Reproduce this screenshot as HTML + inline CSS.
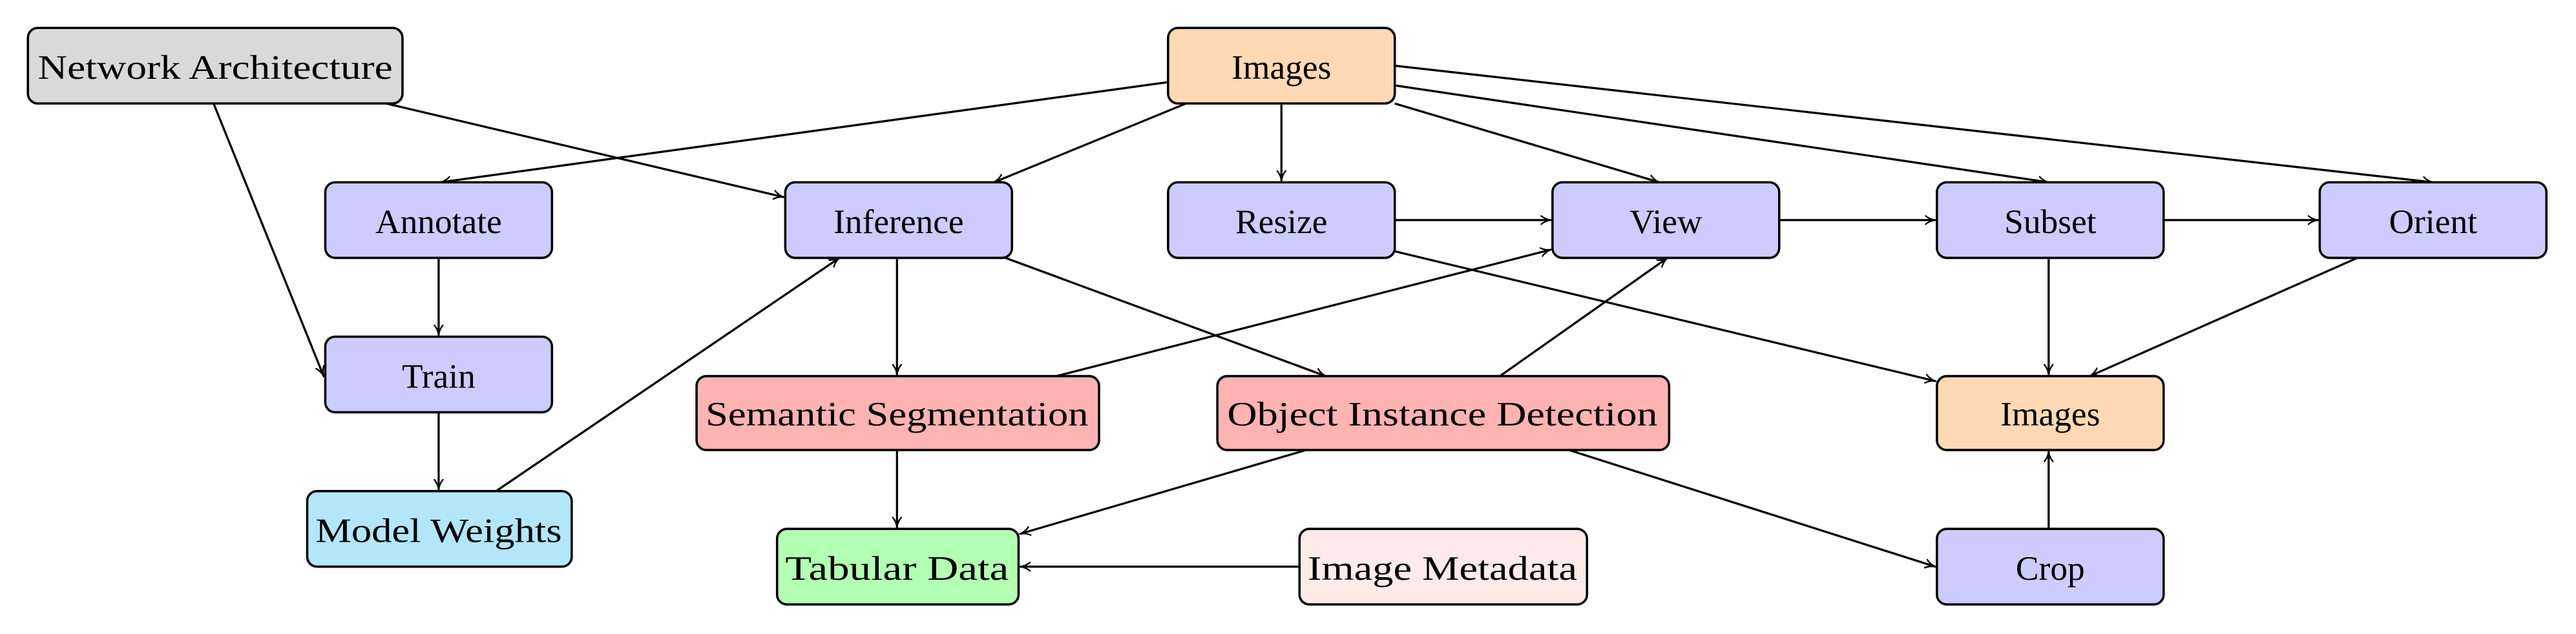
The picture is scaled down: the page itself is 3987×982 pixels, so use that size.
<!DOCTYPE html>
<html><head><meta charset="utf-8"><style>
html,body{margin:0;padding:0;background:#fff;}
svg{display:block;}
text{font-family:"Liberation Serif",serif;font-size:21px;fill:#000;}
</style></head><body>
<svg width="3987" height="982" viewBox="0 0 1568 386" preserveAspectRatio="none" xmlns="http://www.w3.org/2000/svg">
<defs>
<marker id="a" viewBox="0 0 10 10" refX="9" refY="5" markerWidth="7" markerHeight="7" orient="auto" markerUnits="userSpaceOnUse">
<path d="M0,1 Q5,5 10,5 Q5,5 0,9" fill="none" stroke="#000" stroke-width="1.3"/>
</marker>
</defs>
<g stroke="#000" stroke-width="1.3" fill="none" marker-end="url(#a)">
<line x1="130" y1="63" x2="197" y2="229"/>
<line x1="235" y1="63" x2="477" y2="120"/>
<line x1="711" y1="50" x2="268" y2="111"/>
<line x1="722" y1="63" x2="605" y2="111"/>
<line x1="780" y1="63" x2="780" y2="110"/>
<line x1="849" y1="63" x2="1010" y2="111"/>
<line x1="849" y1="52" x2="1247" y2="111"/>
<line x1="849" y1="40" x2="1481" y2="111"/>
<line x1="267" y1="157" x2="267" y2="204"/>
<line x1="267" y1="251" x2="267" y2="298"/>
<line x1="302" y1="299" x2="511" y2="157"/>
<line x1="546" y1="157" x2="546" y2="228"/>
<line x1="612" y1="157" x2="807" y2="229"/>
<line x1="849" y1="134" x2="944" y2="134"/>
<line x1="1083" y1="134" x2="1178" y2="134"/>
<line x1="1317" y1="134" x2="1411" y2="134"/>
<line x1="849" y1="153" x2="1178" y2="232"/>
<line x1="643" y1="229" x2="944" y2="152"/>
<line x1="913" y1="229" x2="1015" y2="157"/>
<line x1="1247" y1="157" x2="1247" y2="228"/>
<line x1="1435" y1="157" x2="1272" y2="229"/>
<line x1="546" y1="274" x2="546" y2="321"/>
<line x1="795" y1="274" x2="621" y2="325"/>
<line x1="955" y1="274" x2="1178" y2="345"/>
<line x1="791" y1="345" x2="621" y2="345"/>
<line x1="1247" y1="322" x2="1247" y2="275"/>
</g>
<g stroke="#000" stroke-width="1.4">
<rect x="17" y="17" width="228" height="46" rx="6" fill="#d9d9d9"/>
<rect x="711" y="17" width="138" height="46" rx="6" fill="#ffd9b3"/>
<rect x="198" y="111" width="138" height="46" rx="6" fill="#ccccff"/>
<rect x="478" y="111" width="138" height="46" rx="6" fill="#ccccff"/>
<rect x="711" y="111" width="138" height="46" rx="6" fill="#ccccff"/>
<rect x="945" y="111" width="138" height="46" rx="6" fill="#ccccff"/>
<rect x="1179" y="111" width="138" height="46" rx="6" fill="#ccccff"/>
<rect x="1412" y="111" width="138" height="46" rx="6" fill="#ccccff"/>
<rect x="198" y="205" width="138" height="46" rx="6" fill="#ccccff"/>
<rect x="424" y="229" width="245" height="45" rx="6" fill="#ffb3b3"/>
<rect x="741" y="229" width="275" height="45" rx="6" fill="#ffb3b3"/>
<rect x="1179" y="229" width="138" height="45" rx="6" fill="#ffd9b3"/>
<rect x="187" y="299" width="161" height="46" rx="6" fill="#b3e6f9"/>
<rect x="473" y="322" width="147" height="46" rx="6" fill="#b3ffb3"/>
<rect x="791" y="322" width="175" height="46" rx="6" fill="#ffeaea"/>
<rect x="1179" y="322" width="138" height="46" rx="6" fill="#ccccff"/>
</g>
<g text-anchor="middle">
<text x="131" y="48" textLength="216" lengthAdjust="spacingAndGlyphs">Network Architecture</text>
<text x="780" y="48">Images</text>
<text x="267" y="142">Annotate</text>
<text x="547" y="142">Inference</text>
<text x="780" y="142">Resize</text>
<text x="1014" y="142">View</text>
<text x="1248" y="142">Subset</text>
<text x="1481" y="142">Orient</text>
<text x="267" y="236">Train</text>
<text x="546" y="259" textLength="233" lengthAdjust="spacingAndGlyphs">Semantic Segmentation</text>
<text x="878" y="259" textLength="262" lengthAdjust="spacingAndGlyphs">Object Instance Detection</text>
<text x="1248" y="259">Images</text>
<text x="267" y="330" textLength="150" lengthAdjust="spacingAndGlyphs">Model Weights</text>
<text x="546" y="353" textLength="136" lengthAdjust="spacingAndGlyphs">Tabular Data</text>
<text x="878" y="353" textLength="164" lengthAdjust="spacingAndGlyphs">Image Metadata</text>
<text x="1248" y="353">Crop</text>
</g>
</svg>
</body></html>
